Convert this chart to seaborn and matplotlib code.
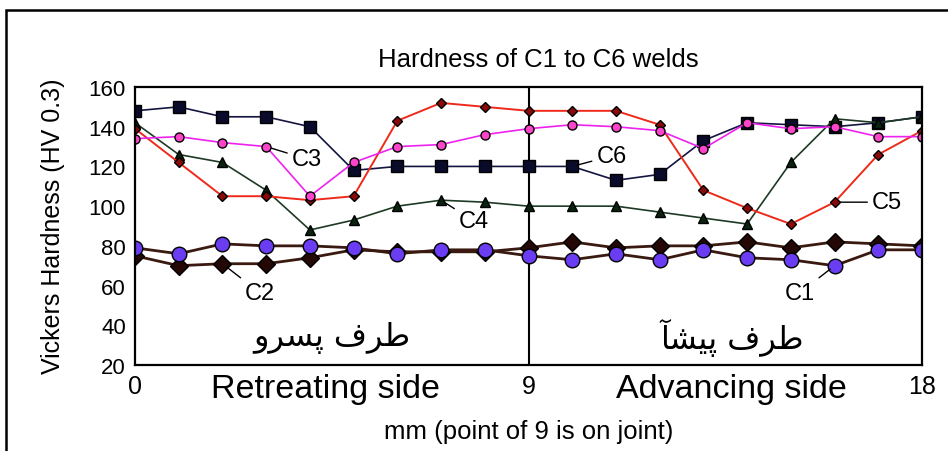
import matplotlib
matplotlib.use('Agg')
import matplotlib.pyplot as plt
import seaborn as sns
import pandas as pd
from matplotlib.patches import Rectangle

# ---- data ----
positions = list(range(19))  # mm, point 9 is on the joint
c1 = [79, 76, 81, 80, 80, 79, 76, 78, 78, 75, 73, 76, 73, 78, 74, 73, 70, 78, 78]
c2 = [75, 70, 71, 71, 74, 78, 77, 77, 77, 79, 82, 79, 80, 80, 82, 79, 82, 81, 80]
c3 = [134, 135, 132, 130, 105, 122, 130, 131, 136, 139, 141, 140, 138, 129, 142, 139, 140, 135, 135]
c4 = [142, 126, 122, 108, 88, 93, 100, 103, 102, 100, 100, 100, 97, 94, 91, 122, 144, 142, 145]
c5 = [139, 122, 105, 105, 103, 105, 143, 152, 150, 148, 148, 148, 141, 108, 99, 91, 102, 126, 138]
c6 = [148, 150, 145, 145, 140, 118, 120, 120, 120, 120, 120, 113, 116, 133, 142, 141, 140, 142, 145]

x_ticks = [0, 9, 18]
y_ticks = [20, 40, 60, 80, 100, 120, 140, 160]
title = "Hardness of C1 to C6 welds"
x_label = "mm (point of 9 is on joint)"
y_label = "Vickers Hardness (HV 0.3)"
side_labels = ["Retreating side", "Advancing side"]
# Persian labels in presentation forms, visual (left-to-right) order
fa_retreating = "\uFEED\uFEAE\uFEB4\uFB58 \uFED1\uFEAE\uFEC3"   # طرف پسرو
fa_advancing = "\uFE82\uFEB8\uFEF4\uFB58 \uFED1\uFEAE\uFEC3"    # طرف پیشآ

sns.set_style("white")
plt.rcParams['font.family'] = ['Liberation Sans', 'DejaVu Sans']
plt.rcParams['text.color'] = 'black'
plt.rcParams['xtick.color'] = 'black'
plt.rcParams['ytick.color'] = 'black'
plt.rcParams['axes.labelcolor'] = 'black'

fig = plt.figure(figsize=(9.48, 4.52), dpi=100)
ax = fig.add_axes([135/948, 1-366/452, (922-135)/948, (366-88)/452])

styles = [
    # name, values, line colour, marker, face, size, lw
    ("C6", c6, "#141440", "s", "#0a0a2a", 8.5, 1.2),
    ("C4", c4, "#1e3a24", "^", "#0a2410", 7.5, 1.2),
    ("C5", c5, "#ee2a1a", "D", "#8a0a0a", 5.5, 1.4),
    ("C3", c3, "#ee22ee", "o", "#ff44cc", 6.5, 1.2),
    ("C2", c2, "#3a1a10", "D", "#240806", 9.5, 2.0),
    ("C1", c1, "#3a1a10", "o", "#6a3cf2", 10.5, 2.0),
]
for name, vals, col, mk, face, ms, lw in styles:
    df = pd.DataFrame({"x": positions, "y": vals})
    sns.lineplot(data=df, x="x", y="y", ax=ax, color=col, marker=mk,
                 markersize=ms, markerfacecolor=face, markeredgecolor="black",
                 markeredgewidth=1.0, linewidth=lw, legend=False)

ax.axvline(9, color="black", lw=1.5, zorder=1)

ax.set_xlim(0, 18)
ax.set_ylim(20, 160)
ax.set_xticks(x_ticks)
ax.set_yticks(y_ticks)
ax.set_xticklabels([str(t) for t in x_ticks], fontsize=18)
ax.set_yticklabels([str(t) for t in y_ticks], fontsize=16)
ax.tick_params(axis='both', direction='inout', length=9, width=1.5,
               color='black', labelcolor='black', pad=2)
ax.set_xlabel("")
ax.set_ylabel("")
for s in ax.spines.values():
    s.set_color("black")
    s.set_linewidth(1.6)
ax.set_facecolor("white")

ann = [
    ("C3", (3, 130), (3.93, 123.7)),
    ("C6", (10, 120), (10.9, 125.3)),
    ("C4", (7, 103), (7.75, 92.5)),
    ("C5", (16, 102), (17.2, 102)),
    ("C2", (2, 71), (2.86, 56.3)),
    ("C1", (16, 70), (15.2, 56.3)),
]
for txt, xy, xyt in ann:
    ax.annotate(txt, xy=xy, xytext=xyt, ha='center', va='center', fontsize=17,
                color='black',
                arrowprops=dict(arrowstyle='-', color='black', lw=1.0,
                                shrinkA=1, shrinkB=4))

ax.text(4.5, 34, fa_retreating, ha='center', va='center', fontsize=23,
        family=['DejaVu Sans'], color='black')
ax.text(13.65, 34, fa_advancing, ha='center', va='center', fontsize=23,
        family=['DejaVu Sans'], color='black')

ax.text(4.35, 8, side_labels[0], ha='center', va='center', fontsize=24.5,
        clip_on=False, color='black')
ax.text(13.65, 8, side_labels[1], ha='center', va='center', fontsize=24.5,
        clip_on=False, color='black')

fig.text(538/948, 1-60/452, title, ha='center', va='center', fontsize=18.5, color='black')
fig.text(529/948, 1-432/452, x_label, ha='center', va='center', fontsize=18.5, color='black')
fig.text(53/948, 1-226/452, y_label, ha='center', va='center', fontsize=18,
         rotation=90, color='black')

frame = Rectangle((6/948, -0.2), 2.0, 1.2 - 11/452, transform=fig.transFigure,
                  fill=False, edgecolor='black', lw=1.8)
fig.patches.append(frame)

fig.savefig("out.png", dpi=100)
